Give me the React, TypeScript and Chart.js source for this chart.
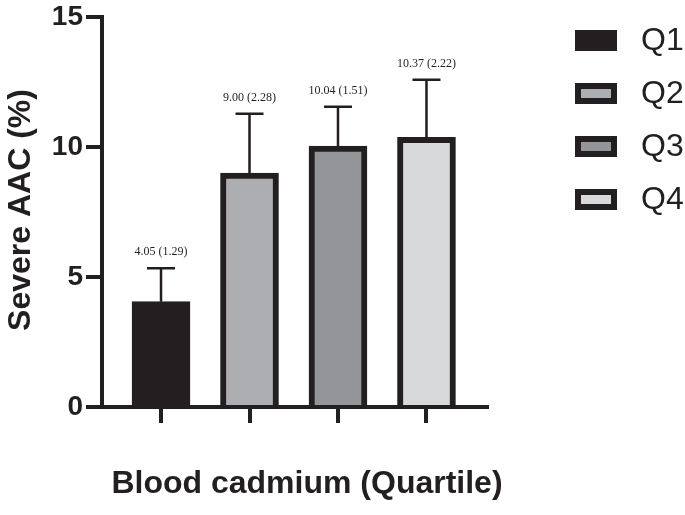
import React, { useEffect, useRef } from "react";
import { Chart, registerables } from "chart.js";

Chart.register(...registerables);

const categories = ["Q1", "Q2", "Q3", "Q4"];
const means = [4.05, 9.0, 10.04, 10.37];
const sds = [1.29, 2.28, 1.51, 2.22];
const yTicks = [0, 5, 10, 15];
const xTitle = "Blood cadmium (Quartile)";
const yTitle = "Severe AAC (%)";

const INK = "#231f20";
const fills = ["#231f20", "#adaeb1", "#939598", "#d8d9da"];
const SANS = "'Liberation Sans', Arial, Helvetica, sans-serif";
const SERIF = "'Liberation Serif', 'Times New Roman', serif";

const overlay = {
  id: "overlay",
  afterDraw(chart: any) {
    const { ctx } = chart;
    const xs = chart.scales.x;
    const ys = chart.scales.y;
    ctx.save();
    // error bars + labels
    means.forEach((m, i) => {
      const cx = xs.getPixelForValue(i + 1);
      const y0 = ys.getPixelForValue(m);
      const y1 = ys.getPixelForValue(m + sds[i]);
      ctx.strokeStyle = INK;
      ctx.lineWidth = 2.5;
      ctx.beginPath();
      ctx.moveTo(cx, y0);
      ctx.lineTo(cx, y1);
      ctx.moveTo(cx - 14, y1);
      ctx.lineTo(cx + 14, y1);
      ctx.stroke();
      ctx.fillStyle = INK;
      ctx.font = `12px ${SERIF}`;
      ctx.textAlign = "center";
      ctx.textBaseline = "middle";
      ctx.fillText(`${m.toFixed(2)} (${sds[i].toFixed(2)})`, cx, y1 - 16);
    });
    // legend
    categories.forEach((c, i) => {
      const bx = 575;
      const by = 30 + i * 53;
      ctx.fillStyle = INK;
      ctx.fillRect(bx, by, 42, 21);
      if (i > 0) {
        ctx.fillStyle = fills[i];
        ctx.fillRect(bx + 6, by + 6, 30, 9);
      }
      ctx.fillStyle = INK;
      ctx.font = `32px ${SANS}`;
      ctx.textAlign = "left";
      ctx.textBaseline = "middle";
      ctx.fillText(c, 641, by + 11);
    });
    // axis titles
    ctx.fillStyle = INK;
    ctx.font = `bold 32px ${SANS}`;
    ctx.textAlign = "center";
    ctx.textBaseline = "middle";
    ctx.fillText(xTitle, 307, 484);
    ctx.translate(21, 210);
    ctx.rotate(-Math.PI / 2);
    ctx.fillText(yTitle, 0, 0);
    ctx.restore();
  },
};

export default function App() {
  const ref = useRef<HTMLCanvasElement>(null);
  useEffect(() => {
    document.body.style.margin = "0";
    const chart = new Chart(ref.current as HTMLCanvasElement, {
      type: "bar",
      data: {
        datasets: [
          {
            data: means.map((m, i) => ({ x: i + 1, y: m })),
            backgroundColor: fills,
            borderColor: INK,
            borderWidth: 6,
            barThickness: 58,
          } as any,
        ],
      },
      options: {
        animation: false,
        responsive: false,
        layout: { padding: { left: 52, right: 198, top: 15, bottom: 92 } },
        plugins: { legend: { display: false }, tooltip: { enabled: false } },
        scales: {
          x: {
            type: "linear",
            min: 0.333,
            max: 4.684,
            offset: false,
            z: 1,
            afterBuildTicks: (s: any) => {
              s.ticks = categories.map((_, i) => ({ value: i + 1 }));
            },
            afterFit: (s: any) => {
              s.height = 16;
            },
            ticks: { display: false },
            grid: {
              offset: false,
              drawOnChartArea: false,
              drawTicks: true,
              tickLength: 16,
              tickWidth: 4,
              tickColor: INK,
              lineWidth: 4,
              color: INK,
            },
            border: { display: true, width: 4, color: INK },
          },
          y: {
            min: 0,
            max: 15,
            z: 1,
            afterBuildTicks: (s: any) => {
              s.ticks = yTicks.map((v) => ({ value: v }));
            },
            afterFit: (s: any) => {
              s.width = 50;
            },
            ticks: {
              padding: 3,
              color: INK,
              font: { family: SANS, size: 28, weight: "bold", lineHeight: 1 },
            },
            grid: {
              drawOnChartArea: false,
              drawTicks: true,
              tickLength: 16,
              tickWidth: 4,
              tickColor: INK,
              lineWidth: 4,
              color: INK,
            },
            border: { display: true, width: 4, color: INK },
          },
        },
      } as any,
      plugins: [overlay],
    });
    return () => chart.destroy();
  }, []);
  return (
    <div style={{ width: 685, height: 515 }}>
      <canvas ref={ref} width={685} height={515} />
    </div>
  );
}
